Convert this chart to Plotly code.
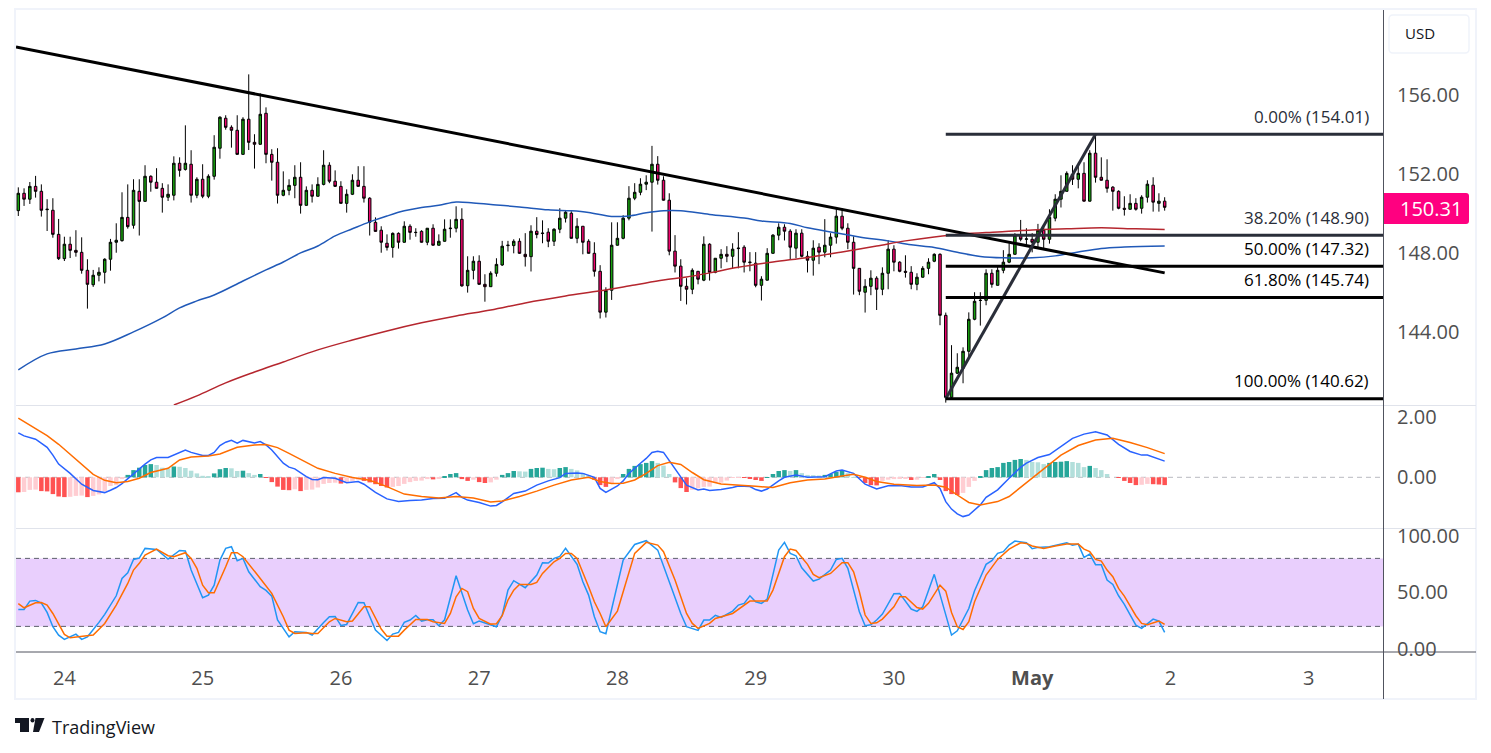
import pandas as pd
import plotly.graph_objects as go
from plotly.subplots import make_subplots

FONT = "Open Sans"
W, H = 1491, 753

# hourly candles
start_time = "2024-04-23 16:00"
opens = [150.14, 151.02, 150.72, 151.37, 151.12, 150.19, 150.16, 148.94, 147.71, 148.44,
         148.13, 148.03, 147.12, 146.39, 146.87, 147.02, 147.68, 148.54, 148.62, 149.80,
         149.40, 151.12, 150.61, 151.88, 151.58, 151.27, 150.82, 150.92, 152.54, 152.23,
         152.49, 150.92, 151.73, 150.87, 151.88, 153.30, 154.82, 154.36, 154.21, 152.99,
         154.77, 153.60, 153.50, 155.07, 152.99, 152.59, 150.92, 151.17, 151.42, 151.83,
         150.41, 151.17, 150.87, 151.47, 152.44, 151.63, 151.37, 150.51, 150.97, 151.68,
         151.37, 150.77, 149.55, 149.15, 148.49, 148.28, 148.99, 148.54, 149.35, 149.03,
         149.09, 148.54, 149.25, 148.39, 148.59, 149.23, 149.25, 149.70, 146.34, 147.12,
         147.58, 146.41, 146.29, 146.97, 147.39, 148.37, 148.37, 148.59, 147.93, 147.81,
         149.10, 148.98, 149.05, 148.59, 149.20, 149.76, 150.01, 148.74, 149.35, 148.59,
         147.98, 147.07, 145.00, 146.11, 148.39, 148.74, 149.76, 150.77, 151.07, 151.48,
         151.58, 152.49, 151.68, 150.67, 148.09, 147.33, 146.31, 146.16, 147.07, 146.62,
         148.44, 147.02, 147.73, 147.93, 147.83, 148.22, 148.29, 147.51, 147.48, 146.36,
         146.62, 147.98, 148.90, 149.30, 149.10, 148.24, 149.00, 147.83, 147.63, 148.29,
         148.04, 148.39, 148.80, 149.86, 149.25, 148.54, 147.22, 146.01, 146.31, 146.72,
         146.16, 146.97, 148.19, 147.53, 147.07, 147.02, 146.41, 146.77, 147.22, 147.58,
         147.93, 144.84, 140.69, 141.91, 142.16, 143.02, 144.64, 145.59, 145.60, 146.97,
         146.36, 147.12, 147.53, 147.93, 148.89, 148.69, 148.69, 148.54, 149.15, 148.69,
         149.76, 150.72, 151.12, 151.98, 151.73, 152.03, 150.62, 153.05, 151.83, 151.68,
         151.33, 151.12, 150.26, 150.21, 150.51, 150.26, 150.82, 151.43, 150.51, 150.62]
highs = [151.32, 151.27, 151.59, 151.90, 151.47, 150.72, 150.77, 149.72, 148.82, 148.82,
         149.15, 148.79, 147.68, 147.14, 147.27, 147.73, 148.71, 149.50, 151.07, 151.47,
         151.73, 151.73, 152.44, 151.93, 152.29, 151.53, 151.47, 152.89, 152.84, 154.46,
         153.20, 151.83, 152.49, 151.98, 153.96, 154.92, 154.97, 154.46, 154.97, 154.87,
         157.04, 154.01, 156.08, 155.37, 153.25, 153.30, 152.13, 151.73, 152.44, 152.59,
         151.37, 151.47, 151.83, 153.20, 152.59, 152.18, 151.63, 151.22, 151.98, 152.39,
         152.39, 150.82, 149.80, 149.35, 148.94, 149.04, 149.04, 149.60, 149.45, 149.25,
         149.15, 149.25, 149.45, 148.94, 149.70, 149.70, 150.36, 150.26, 147.83, 147.83,
         147.88, 146.92, 147.07, 147.73, 148.61, 148.61, 148.69, 148.74, 149.00, 149.40,
         149.81, 149.65, 149.25, 149.25, 150.26, 150.16, 150.11, 149.76, 149.35, 148.69,
         148.54, 147.38, 146.26, 149.55, 149.55, 149.91, 151.38, 151.53, 151.78, 151.93,
         153.42, 152.90, 151.88, 151.02, 148.90, 147.68, 146.72, 147.22, 147.07, 148.84,
         148.49, 147.73, 148.19, 148.34, 148.49, 149.05, 148.39, 148.04, 148.04, 146.82,
         148.24, 148.95, 149.50, 149.45, 149.20, 149.20, 149.20, 148.09, 148.64, 148.49,
         149.71, 149.00, 150.31, 150.26, 149.50, 148.84, 147.22, 146.67, 147.12, 146.82,
         147.27, 148.64, 148.39, 147.58, 147.88, 147.33, 146.97, 147.33, 147.73, 147.98,
         147.98, 144.98, 143.33, 142.92, 143.22, 144.99, 146.01, 146.01, 147.17, 147.17,
         147.38, 148.14, 148.49, 149.00, 149.67, 149.25, 149.00, 149.47, 149.30, 150.21,
         150.97, 151.93, 152.13, 152.44, 152.44, 152.59, 153.20, 154.01, 152.84, 152.74,
         151.38, 151.17, 150.87, 150.97, 150.77, 150.92, 151.68, 151.83, 151.02, 150.82]
lows = [149.87, 150.38, 150.48, 150.80, 149.84, 149.11, 148.77, 147.64, 147.59, 147.74,
        147.81, 146.95, 145.18, 146.28, 146.56, 146.45, 147.10, 148.01, 148.57, 149.23,
        149.23, 148.88, 150.60, 151.10, 151.26, 150.04, 150.63, 150.66, 151.86, 152.17,
        150.55, 150.77, 150.77, 150.77, 151.71, 152.77, 154.24, 153.33, 152.98, 152.98,
        153.21, 152.27, 153.48, 152.54, 151.66, 150.50, 150.87, 150.92, 150.77, 149.99,
        150.39, 150.55, 150.85, 151.42, 151.53, 151.34, 150.50, 150.04, 150.93, 151.36,
        150.55, 148.88, 149.08, 148.01, 148.12, 147.76, 148.22, 148.52, 148.67, 148.82,
        148.52, 148.39, 148.37, 148.37, 148.57, 148.77, 149.04, 146.29, 145.99, 146.66,
        146.39, 145.53, 146.28, 146.80, 147.34, 148.07, 147.98, 147.95, 147.31, 147.06,
        148.74, 148.49, 148.29, 148.35, 149.00, 149.54, 148.73, 148.49, 147.93, 147.97,
        146.80, 144.68, 144.73, 145.62, 148.37, 148.69, 149.65, 150.67, 150.92, 151.18,
        149.08, 151.46, 150.65, 147.88, 147.01, 145.57, 145.39, 145.91, 146.41, 146.57,
        146.60, 146.97, 147.22, 147.53, 147.22, 147.22, 147.01, 147.07, 146.26, 145.59,
        146.60, 147.97, 148.64, 148.63, 147.68, 147.73, 147.78, 147.01, 146.85, 147.43,
        147.78, 147.78, 148.47, 149.15, 148.19, 145.89, 145.86, 144.98, 145.86, 145.11,
        145.86, 146.16, 147.07, 147.02, 146.75, 146.16, 146.11, 146.75, 146.92, 147.53,
        144.34, 140.42, 140.64, 141.87, 141.40, 142.67, 144.59, 144.32, 145.35, 146.24,
        146.35, 146.97, 147.48, 147.92, 148.59, 148.39, 148.03, 148.24, 148.24, 148.47,
        149.60, 150.30, 151.11, 151.44, 151.27, 150.60, 150.60, 151.56, 151.66, 151.05,
        150.14, 150.21, 149.89, 150.19, 150.14, 149.99, 150.55, 150.09, 150.09, 150.14]
closes = [151.02, 150.72, 151.37, 151.12, 150.16, 150.21, 148.94, 147.71, 148.44, 148.13,
          148.03, 147.12, 146.41, 146.87, 147.02, 147.68, 148.54, 148.64, 149.80, 149.33,
          151.17, 150.61, 151.88, 151.58, 151.27, 150.82, 150.97, 152.54, 152.18, 152.54,
          150.92, 151.73, 150.87, 151.88, 153.35, 154.87, 154.36, 154.21, 152.99, 154.77,
          153.60, 153.50, 155.02, 152.99, 152.59, 150.92, 151.17, 151.42, 151.83, 150.41,
          151.17, 150.87, 151.47, 152.44, 151.63, 151.37, 150.51, 150.97, 151.68, 151.37,
          150.77, 149.55, 149.09, 148.54, 148.28, 148.99, 148.54, 149.35, 149.04, 149.04,
          148.54, 149.25, 148.39, 148.59, 149.20, 149.25, 149.70, 146.33, 147.12, 147.58,
          146.41, 146.29, 146.97, 147.42, 148.34, 148.39, 148.59, 147.98, 147.81, 149.10,
          148.93, 149.00, 148.59, 149.20, 149.76, 150.06, 148.74, 149.35, 148.54, 147.98,
          147.07, 145.00, 146.11, 148.39, 148.74, 149.76, 150.77, 151.07, 151.48, 151.58,
          152.49, 151.68, 150.67, 148.09, 147.33, 146.31, 146.16, 147.12, 146.67, 148.44,
          147.02, 147.73, 147.93, 147.83, 148.19, 148.24, 147.53, 147.53, 146.36, 146.67,
          147.98, 148.90, 149.30, 149.10, 148.29, 149.00, 147.83, 147.63, 148.24, 148.04,
          148.39, 148.80, 149.86, 149.25, 148.54, 147.22, 146.06, 146.31, 146.72, 146.16,
          146.97, 148.19, 147.53, 147.07, 147.02, 146.41, 146.77, 147.22, 147.53, 147.93,
          144.84, 140.69, 141.91, 142.21, 143.02, 144.64, 145.55, 145.60, 146.97, 146.41,
          147.12, 147.53, 147.93, 148.89, 148.69, 148.71, 148.54, 149.15, 148.69, 149.80,
          150.72, 151.12, 152.03, 151.73, 152.03, 150.62, 153.05, 151.83, 151.68, 151.27,
          151.12, 150.26, 150.21, 150.51, 150.21, 150.82, 151.48, 150.57, 150.62, 150.31]

# moving averages, read at candle numbers
ma_blue_i = [0, 5, 10, 15, 20, 25, 28, 31, 34, 39, 43, 46, 49, 52, 55, 58, 61, 64, 67, 70, 73, 76, 79,
             83, 87, 92, 96, 99, 103, 106, 109, 112, 115, 120, 126, 129, 134, 137, 141, 146, 151,
             155, 159, 163, 167, 171, 176, 180, 184, 188, 192, 199]
ma_blue = [142.08, 142.89, 143.14, 143.39, 144.00, 144.71, 145.22, 145.57, 145.87, 146.58, 147.14,
           147.54, 148.00, 148.35, 148.86, 149.22, 149.57, 149.87, 150.13, 150.30, 150.41, 150.58,
           150.53, 150.43, 150.33, 150.18, 150.13, 150.05, 149.85, 149.87, 150.03, 150.13, 150.13,
           149.95, 149.77, 149.62, 149.49, 149.27, 149.06, 148.81, 148.61, 148.41, 148.28, 148.03,
           147.82, 147.75, 147.75, 147.85, 148.05, 148.23, 148.30, 148.35]
ma_red_i = [27, 31, 36, 41, 46, 52, 58, 64, 70, 76, 82, 88, 95, 101, 107, 112, 116, 120, 125, 131,
            137, 143, 149, 154, 159, 164, 170, 176, 182, 188, 194, 199]
ma_red = [140.30, 140.76, 141.42, 141.97, 142.48, 143.09, 143.59, 144.05, 144.46, 144.81, 145.11,
          145.47, 145.82, 146.08, 146.38, 146.63, 146.78, 146.99, 147.27, 147.54, 147.77, 148.05,
          148.35, 148.61, 148.81, 148.96, 149.06, 149.16, 149.22, 149.27, 149.22, 149.19]

# macd pane
macd_hist = [-0.50, -0.49, -0.42, -0.41, -0.46, -0.47, -0.56, -0.64, -0.66, -0.65,
             -0.62, -0.61, -0.66, -0.62, -0.57, -0.46, -0.29, -0.26, -0.06, 0.08,
             0.24, 0.32, 0.41, 0.44, 0.41, 0.32, 0.30, 0.36, 0.35, 0.31,
             0.22, 0.13, 0.05, 0.04, 0.13, 0.27, 0.31, 0.30, 0.21, 0.22,
             0.14, 0.08, 0.11, -0.02, -0.16, -0.31, -0.42, -0.43, -0.40, -0.46,
             -0.42, -0.41, -0.34, -0.22, -0.19, -0.18, -0.21, -0.17, -0.12, -0.08,
             -0.12, -0.17, -0.23, -0.29, -0.34, -0.32, -0.29, -0.22, -0.16, -0.12,
             -0.11, -0.06, -0.07, -0.03, 0.04, 0.11, 0.14, -0.06, -0.12, -0.08,
             -0.16, -0.19, -0.17, -0.08, 0.08, 0.14, 0.21, 0.20, 0.19, 0.28,
             0.31, 0.32, 0.28, 0.27, 0.31, 0.34, 0.28, 0.23, 0.14, 0.07,
             -0.08, -0.26, -0.32, -0.22, -0.06, 0.11, 0.28, 0.38, 0.44, 0.48,
             0.54, 0.48, 0.39, 0.11, -0.17, -0.36, -0.49, -0.42, -0.37, -0.32,
             -0.31, -0.19, -0.18, -0.11, -0.02, -0.01, -0.02, -0.03, -0.09, -0.12,
             0.01, 0.11, 0.21, 0.24, 0.21, 0.24, 0.14, 0.08, 0.07, 0.06,
             0.08, 0.11, 0.18, 0.21, 0.14, 0.01, -0.02, -0.19, -0.26, -0.27,
             -0.12, -0.08, -0.06, -0.05, -0.04, -0.09, -0.08, -0.02, 0.04, 0.11,
             -0.09, -0.46, -0.56, -0.59, -0.52, -0.32, -0.12, 0.04, 0.24, 0.31,
             0.34, 0.48, 0.51, 0.58, 0.61, 0.58, 0.51, 0.50, 0.44, 0.48,
             0.51, 0.52, 0.54, 0.51, 0.48, 0.34, 0.38, 0.31, 0.24, 0.11,
             0.00, -0.02, -0.12, -0.19, -0.26, -0.25, -0.22, -0.23, -0.24, -0.26]
macd_i = [0, 1, 3, 5, 6, 7, 9, 11, 13, 15, 16, 17, 18, 20, 22, 23, 24, 26, 27, 29, 30, 32, 33, 34,
          35, 36, 37, 38, 39, 41, 42, 43, 44, 46, 47, 48, 50, 51, 52, 53, 55, 57, 59, 60, 62, 64,
          66, 68, 70, 72, 74, 76, 77, 78, 80, 82, 83, 84, 86, 88, 90, 92, 94, 95, 97, 98, 100,
          101, 102, 104, 105, 106, 108, 109, 110, 111, 112, 114, 116, 118, 119, 120, 122, 124,
          125, 127, 128, 129, 130, 132, 133, 135, 137, 140, 142, 143, 145, 147, 149, 151, 153,
          155, 157, 159, 160, 161, 162, 163, 164, 165, 167, 168, 170, 172, 174, 175, 177, 179,
          181, 183, 185, 187, 189, 191, 193, 195, 196, 197, 199]
macd_line = [1.48, 1.38, 1.27, 1.00, 0.74, 0.44, 0.13, -0.23, -0.44, -0.51, -0.43, -0.34, -0.21,
             0.13, 0.44, 0.58, 0.66, 0.66, 0.74, 0.91, 0.83, 0.73, 0.73, 0.83,
             1.06, 1.17, 1.23, 1.14, 1.23, 1.14, 1.19, 1.08, 0.91, 0.47, 0.34, 0.28, 0.02, -0.07,
             -0.08, -0.01, -0.03, -0.18, -0.14, -0.23, -0.50, -0.72,
             -0.81, -0.77, -0.76, -0.71, -0.70, -0.51, -0.67, -0.76, -0.84, -0.96, -0.94, -0.82,
             -0.54, -0.46, -0.26, -0.12, -0.01, 0.13, 0.14, 0.13, 0.00,
             -0.37, -0.50, -0.29, -0.12, 0.13, 0.47, 0.63, 0.83, 0.87, 0.83, 0.30, -0.26, -0.42,
             -0.39, -0.44, -0.41, -0.34,
             -0.29, -0.31, -0.41, -0.46, -0.39, -0.12, 0.00, 0.08, 0.00, 0.02, 0.21, 0.24, 0.13,
             -0.23, -0.39, -0.28, -0.27,
             -0.32, -0.32, -0.18, -0.37, -0.81, -1.06, -1.22, -1.31, -1.26, -0.92, -0.67, -0.42,
             -0.03, 0.33, 0.47, 0.66, 0.76,
             1.02, 1.30, 1.44, 1.52, 1.41, 1.10, 0.86, 0.74, 0.74, 0.67, 0.54]
signal_i = [0, 3, 5, 7, 9, 11, 13, 15, 17, 19, 21, 23, 26, 28, 30, 33, 35, 38, 41, 43, 45, 47, 49,
            52, 55, 58, 61, 64, 67, 70, 73, 76, 79, 82, 84, 87, 90, 93, 96, 99, 101, 103, 105,
            107, 109, 111, 113, 115, 117, 119, 122, 125, 128, 131, 134, 137, 140, 143, 145, 147,
            149, 152, 156, 159, 161, 163, 165, 167, 170, 172, 175, 178, 181, 184, 187, 190, 193,
            196, 199]
signal_line = [1.97, 1.61, 1.39, 1.10, 0.77, 0.43, 0.10, -0.10, -0.18, -0.14, -0.03, 0.16, 0.30,
               0.58, 0.68, 0.71, 0.78, 1.00, 1.08, 1.09, 0.99, 0.80, 0.60,
               0.30, 0.13, -0.01, -0.10, -0.31, -0.56, -0.64, -0.69, -0.64, -0.69, -0.82, -0.79,
               -0.64, -0.46, -0.26, -0.09, 0.00, -0.14, -0.21, -0.20,
               -0.09, 0.13, 0.39, 0.50, 0.43, 0.16, -0.08, -0.22, -0.27, -0.30, -0.34, -0.18,
               -0.09, -0.06, 0.04, 0.10, 0.00,
               -0.14, -0.23, -0.27, -0.26, -0.33, -0.59, -0.84, -0.92, -0.81, -0.64, -0.17, 0.30,
               0.74, 1.06, 1.24, 1.30, 1.16,
               0.99, 0.79]

# stochastic pane
stoch_k_i = [0, 1, 2, 3, 4, 5, 6, 7, 8, 10, 11, 12, 14, 15, 17, 18, 19, 20, 21, 22, 24, 26, 28, 29,
             30, 32, 33, 34, 35, 36, 37, 38, 39, 40, 42, 43, 44, 45, 47, 48, 50, 51, 53, 54, 55,
             56, 57, 59, 60, 62, 64, 65, 66, 67, 68, 69, 70, 71, 72, 73, 74, 76, 78, 79, 80, 82,
             83, 84, 85, 86, 88, 90, 91, 92, 93, 94, 95, 97, 98, 99, 100, 101, 102, 105, 107, 109,
             111, 113, 115, 116, 118, 119, 120, 121, 122, 124, 125, 126, 127, 128, 129, 130, 132,
             133, 134, 135, 136, 138, 139, 141, 142, 143, 144, 146, 147, 148, 149, 150, 152, 153,
             155, 156, 157, 159, 162, 163, 165, 166, 168, 169, 170, 171, 172, 173, 175, 176, 177,
             179, 182, 183, 184, 185, 186, 187, 188, 189, 190, 191, 192, 194, 195, 197, 198, 199]
stoch_k = [35.0, 35.0, 42.3, 42.9, 40.6, 32.3, 19.7, 12.3, 8.5, 13.2, 8.5, 10.8, 23.5, 30.6, 47.0,
           62.3, 67.3, 79.1, 80.3, 88.8, 87.9, 79.4, 87.0, 86.5,
           69.7, 45.3, 47.6, 56.4, 78.5, 88.8, 90.3, 77.9, 80.0, 68.2, 55.0, 51.7, 46.7, 25.6, 10.8,
           15.3, 14.7, 12.3, 23.5, 28.5, 28.8,
           20.8, 21.7, 41.1, 40.8, 16.7, 7.6, 13.2, 14.7, 23.5, 25.6, 29.7, 24.7, 25.8, 25.8, 20.6,
           25.8, 64.7, 34.4, 22.3, 24.7, 21.1,
           19.7, 30.0, 52.0, 60.3, 54.1, 65.3, 76.2, 75.9, 80.0, 81.7, 88.8, 74.7, 59.4, 47.6, 28.5,
           15.3, 13.5, 78.5, 92.3, 95.6,
           87.3, 59.4, 31.4, 19.7, 16.4, 25.6, 25.6, 29.7, 27.9, 33.5, 38.8, 40.3, 47.0, 41.7, 40.3,
           44.1, 87.3,
           94.1, 84.4, 82.3, 71.7, 60.0, 61.7, 69.7, 79.1, 80.0, 71.2, 32.9, 20.6, 21.4, 25.6, 30.8,
           48.8, 49.1,
           35.3, 33.2, 37.3, 65.9, 12.3, 16.1, 35.8, 51.4, 74.7, 77.9, 84.4, 85.9, 91.7, 95.3, 93.8,
           88.5, 89.7,
           90.3, 93.8, 91.7, 92.6, 80.9, 83.8, 74.4, 74.4, 60.9, 57.0, 47.0, 39.4, 21.1, 18.2, 26.4,
           24.7, 14.7]
stoch_d_i = [0, 1, 3, 4, 5, 6, 8, 9, 13, 15, 17, 19, 20, 21, 22, 24, 26, 27, 29, 30, 31, 32, 33, 34,
             36, 37, 38, 39, 42, 44, 46, 47, 48, 50, 51, 52, 54, 55, 57, 58, 60, 61, 63, 64, 66, 67,
             69, 71, 72, 74, 75, 76, 77, 78, 79, 80, 82, 83, 84, 85, 86, 87, 89, 90, 91, 93, 94, 95,
             96, 97, 99, 100, 101, 102, 104, 106, 107, 109, 111, 112, 114, 116, 117, 118, 120, 121,
             124, 127, 130, 131, 133, 134, 135, 137, 138, 139, 141, 143, 144, 145, 146, 147, 148,
             149, 150, 152, 153, 154, 156, 157, 158, 160, 161, 162, 163, 164, 165, 166, 168, 170,
             172, 174, 175, 176, 178, 180, 182, 184, 185, 186, 187, 188, 189, 190, 191, 192, 194,
             195, 196, 198, 199]
stoch_d = [40.0, 36.4, 40.8, 41.1, 38.8, 31.4, 12.9, 9.9, 12.3, 22.6, 38.8, 57.9, 69.7, 75.6, 82.9,
           88.2, 82.3, 81.5, 85.0, 80.0, 71.2, 56.4, 49.7, 49.7,
           72.6, 85.0, 85.0, 81.5, 62.3, 49.1, 28.5, 16.7, 13.8, 14.4, 13.8, 13.8, 24.1, 27.0, 24.1,
           24.7, 37.3, 37.3, 17.6, 11.4, 11.4, 16.7,
           26.1, 26.1, 24.1, 22.6, 31.4, 46.1, 53.5, 50.6, 35.8, 27.0, 22.0, 22.3, 29.4, 43.2, 52.0,
           57.0, 57.0, 58.8, 66.7, 77.0, 80.0, 84.4,
           84.4, 80.0, 55.0, 41.7, 31.4, 19.7, 33.5, 68.2, 84.4, 94.1, 91.7, 85.9, 60.9, 31.4, 22.6,
           18.2, 22.6, 27.0,
           31.4, 42.3, 42.3, 52.0, 81.5, 88.2, 87.0, 74.7, 65.9, 62.9, 66.7, 76.2, 76.2, 68.2, 50.6,
           30.0, 22.6,
           23.2, 26.4, 37.3, 46.1, 46.1, 36.7, 35.3, 40.3, 56.4, 51.1, 32.3, 19.7, 17.3, 24.1, 41.7,
           65.3, 79.1,
           88.2, 93.8, 93.2, 90.9, 88.8, 90.9, 92.6, 92.6, 88.2, 85.9, 79.1, 77.6, 69.7, 63.8, 53.5,
           46.7, 29.4,
           22.6, 21.4, 24.7, 21.7]

# drawings
trend_times = ["2024-04-23 15:36", "2024-05-01 23:00"]
trend_prices = [158.43, 146.99]
fib_times = ["2024-04-30 09:00", "2024-05-01 11:00"]
fib_anchor_prices = [140.62, 154.01]
fib_levels = ["0.00%", "38.20%", "50.00%", "61.80%", "100.00%"]
fib_prices = [154.01, 148.90, 147.32, 145.74, 140.62]
fib_colors = ["#2a2e39", "#2a2e39", "#000000", "#000000", "#000000"]

# axes
x_range = ["2024-04-23 15:36", "2024-05-03 12:54"]
day_ticks = ["2024-04-24", "2024-04-25", "2024-04-26", "2024-04-27", "2024-04-28",
             "2024-04-29", "2024-04-30", "2024-05-01", "2024-05-02", "2024-05-03"]
day_labels = ["24", "25", "26", "27", "28", "29", "30", "<b>May</b>", "2", "3"]
price_ticks = [144, 148, 152, 156]
macd_ticks = [0, 2]
stoch_ticks = [0, 50, 100]
last_price = 150.31

dates = pd.date_range(start_time, periods=len(opens), freq="h")


def px(x):
    return x / W


def py(y):
    return 1 - y / H


def hist_color(i):
    prev = macd_hist[i - 1] if i else macd_hist[i]
    if macd_hist[i] >= 0:
        return "#26a69a" if macd_hist[i] > prev else "#b2dfdb"
    return "#ffcdd2" if macd_hist[i] > prev else "#ff5252"


fig = make_subplots(rows=3, cols=1, shared_xaxes=True)

fig.add_trace(go.Candlestick(
    x=dates, open=opens, high=highs, low=lows, close=closes,
    increasing=dict(line=dict(color="#000000", width=1), fillcolor="#17a00e"),
    decreasing=dict(line=dict(color="#000000", width=1), fillcolor="#f0056e"),
    whiskerwidth=0, hoverinfo="skip"), row=1, col=1)
fig.add_trace(go.Scatter(x=dates[ma_blue_i], y=ma_blue, mode="lines",
                         line=dict(color="#2059b8", width=1.5, shape="spline")), row=1, col=1)
fig.add_trace(go.Scatter(x=dates[ma_red_i], y=ma_red, mode="lines",
                         line=dict(color="#b5262e", width=1.5, shape="spline")), row=1, col=1)
fig.add_trace(go.Scatter(x=trend_times, y=trend_prices, mode="lines",
                         line=dict(color="#000000", width=3)), row=1, col=1)
fig.add_trace(go.Scatter(x=fib_times, y=fib_anchor_prices, mode="lines",
                         line=dict(color="#2a2e39", width=3)), row=1, col=1)
for level, price, color in zip(fib_levels, fib_prices, fib_colors):
    fig.add_trace(go.Scatter(x=[fib_times[0], x_range[1]], y=[price, price], mode="lines",
                             line=dict(color=color, width=3)), row=1, col=1)
    fig.add_annotation(text=f"{level} ({price:.2f})", xref="paper", yref="y", x=px(1371), y=price,
                       xanchor="right", yanchor="middle", yshift=18, showarrow=False,
                       font=dict(family=FONT, size=17, color=color))

fig.add_trace(go.Bar(x=dates, y=macd_hist, width=3600000 * 0.78,
                     marker=dict(color=[hist_color(i) for i in range(len(macd_hist))], line_width=0)),
              row=2, col=1)
fig.add_trace(go.Scatter(x=dates[macd_i], y=macd_line, mode="lines",
                         line=dict(color="#2962ff", width=1.5)), row=2, col=1)
fig.add_trace(go.Scatter(x=dates[signal_i], y=signal_line, mode="lines",
                         line=dict(color="#ff6d00", width=1.5)), row=2, col=1)

fig.add_trace(go.Scatter(x=dates[stoch_k_i], y=stoch_k, mode="lines",
                         line=dict(color="#2196f3", width=1.5)), row=3, col=1)
fig.add_trace(go.Scatter(x=dates[stoch_d_i], y=stoch_d, mode="lines",
                         line=dict(color="#ff6d00", width=1.5)), row=3, col=1)

# panes sit at fixed pixel rows, like the tradingview layout
x_dom = [px(16), px(1383)]
fig.update_layout(
    width=W, height=H, margin=dict(l=0, r=0, t=0, b=0, autoexpand=False), autosize=False,
    paper_bgcolor="#ffffff", plot_bgcolor="#ffffff", showlegend=False, hovermode=False,
    boxgap=0.38,
    xaxis=dict(domain=x_dom, range=x_range, rangeslider=dict(visible=False), showgrid=False,
               showticklabels=False, ticks=""),
    xaxis2=dict(domain=x_dom, range=x_range, showgrid=False, showticklabels=False, ticks=""),
    xaxis3=dict(domain=x_dom, range=x_range, showgrid=False, tickmode="array", tickvals=day_ticks,
                ticktext=day_labels, ticks="outside", ticklen=8, tickcolor="rgba(0,0,0,0)",
                tickfont=dict(family=FONT, size=20, color="#4f4f4f")),
    yaxis=dict(domain=[py(405), py(9)], range=[140.30, 160.35], side="right", showgrid=False,
               zeroline=False, tickmode="array", tickvals=price_ticks,
               ticktext=[f"{v:.2f}" for v in price_ticks]),
    yaxis2=dict(domain=[py(528), py(405)], range=[-1.69, 2.41], side="right", showgrid=False,
                zeroline=False, tickmode="array", tickvals=macd_ticks,
                ticktext=[f"{v:.2f}" for v in macd_ticks]),
    yaxis3=dict(domain=[py(652), py(528)], range=[-2.6, 106.8], side="right", showgrid=False,
                zeroline=False, tickmode="array", tickvals=stoch_ticks,
                ticktext=[f"{v:.2f}" for v in stoch_ticks]),
)
fig.update_yaxes(tickfont=dict(family=FONT, size=20, color="#4f4f4f"), ticks="outside", ticklen=9,
                 tickcolor="rgba(0,0,0,0)", showline=False, automargin=False)
fig.update_xaxes(automargin=False)

shapes = [
    # outer frame
    dict(type="rect", xref="paper", yref="paper", x0=px(15), x1=px(1476), y0=py(699), y1=py(9),
         line=dict(color="#f0f3fa", width=2), layer="below"),
    # stochastic band
    dict(type="rect", xref="x3", yref="y3", x0=x_range[0], x1=x_range[1], y0=20, y1=80,
         fillcolor="#e9cffd", line_width=0, layer="below"),
    dict(type="line", xref="x3", yref="y3", x0=x_range[0], x1=x_range[1], y0=80, y1=80,
         line=dict(color="#5d606b", width=1, dash="5px,4px"), layer="below"),
    dict(type="line", xref="x3", yref="y3", x0=x_range[0], x1=x_range[1], y0=20, y1=20,
         line=dict(color="#5d606b", width=1, dash="5px,4px"), layer="below"),
    dict(type="line", xref="x2", yref="y2", x0=x_range[0], x1=x_range[1], y0=0, y1=0,
         line=dict(color="#b8bac0", width=1, dash="5px,4px"), layer="below"),
    # pane separators and axis lines
    dict(type="line", xref="paper", yref="paper", x0=px(16), x1=px(1476), y0=py(405.5), y1=py(405.5),
         line=dict(color="#e0e3eb", width=1)),
    dict(type="line", xref="paper", yref="paper", x0=px(16), x1=px(1476), y0=py(528.5), y1=py(528.5),
         line=dict(color="#e0e3eb", width=1)),
    dict(type="line", xref="paper", yref="paper", x0=px(16), x1=px(1476), y0=py(652), y1=py(652),
         line=dict(color="#50535e", width=1)),
    dict(type="line", xref="paper", yref="paper", x0=px(1383.5), x1=px(1383.5), y0=py(699), y1=py(10),
         line=dict(color="#50535e", width=1)),
    # USD box
    dict(type="path", xref="paper", yref="paper", layer="below",
         path=f"M {px(1393)} {py(15)} L {px(1465)} {py(15)} Q {px(1469)} {py(15)} {px(1469)} {py(19)} "
              f"L {px(1469)} {py(49)} Q {px(1469)} {py(53)} {px(1465)} {py(53)} L {px(1393)} {py(53)} "
              f"Q {px(1389)} {py(53)} {px(1389)} {py(49)} L {px(1389)} {py(19)} Q {px(1389)} {py(15)} "
              f"{px(1393)} {py(15)} Z",
         line=dict(color="#f0f3fa", width=1.5)),
    # last price tag
    dict(type="path", xref="paper", yref="paper",
         path=f"M {px(1384)} {py(193)} L {px(1466)} {py(193)} Q {px(1469)} {py(193)} {px(1469)} {py(196)} "
              f"L {px(1469)} {py(221)} Q {px(1469)} {py(224)} {px(1466)} {py(224)} L {px(1384)} {py(224)} Z",
         fillcolor="#ff0080", line_width=0),
    # logo
    dict(type="path", xref="paper", yref="paper",
         path=f"M {px(15)} {py(718)} L {px(29)} {py(718)} L {px(29)} {py(732)} L {px(20)} {py(732)} "
              f"L {px(20)} {py(723)} L {px(15)} {py(723)} Z",
         fillcolor="#131722", line_width=0),
    dict(type="path", xref="paper", yref="paper",
         path=f"M {px(35.5)} {py(718)} L {px(44.5)} {py(718)} L {px(39)} {py(732)} L {px(33)} {py(732)} Z",
         fillcolor="#131722", line_width=0),
    dict(type="circle", xref="paper", yref="paper", x0=px(30.5), x1=px(34.5), y0=py(722.5), y1=py(718),
         fillcolor="#131722", line_width=0),
]
fig.update_layout(shapes=shapes)

fig.add_annotation(text="USD", xref="paper", yref="paper", x=px(1403), y=py(33), xanchor="left",
                   yanchor="middle", showarrow=False, font=dict(family=FONT, size=15, color="#131722"))
fig.add_annotation(text=f"{last_price:.2f}", xref="paper", yref="paper", x=px(1398), y=py(208.5),
                   xanchor="left", yanchor="middle", showarrow=False,
                   font=dict(family=FONT, size=20, color="#ffffff"))
fig.add_annotation(text="TradingView", xref="paper", yref="paper", x=px(50), y=py(727), xanchor="left",
                   yanchor="middle", showarrow=False, font=dict(family=FONT, size=18, color="#131722"))

fig.write_html("out.html", config=dict(displayModeBar=False),
               post_script="document.body.style.margin='0';")
